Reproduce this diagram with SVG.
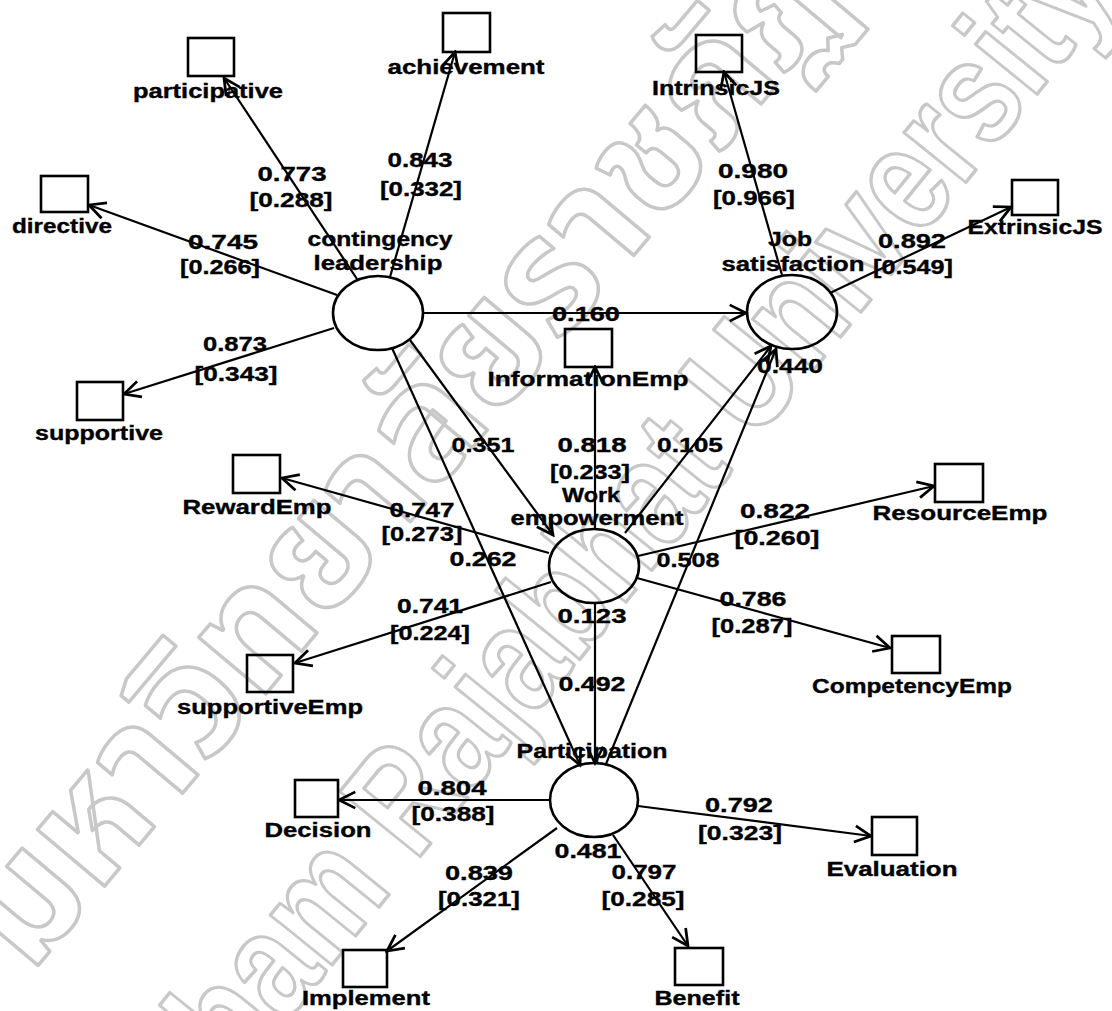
<svg xmlns="http://www.w3.org/2000/svg" width="1112" height="1011" viewBox="0 0 1112 1011">
<style>
  .bg { fill: #ffffff; }
  .box { fill: none; stroke: #000; stroke-width: 2.6; }
  .lv { fill: none; stroke: #000; stroke-width: 2.6; }
  .ln { stroke: #000; stroke-width: 2.2; fill: none; }
  .t { font-family: "Liberation Sans", Arial, sans-serif; font-weight: bold; font-size: 20px; fill: #000; stroke: #000; stroke-width: 0.35; text-anchor: middle; }
  .wm { font-family: "Liberation Sans", "Noto Sans Thai", "Noto Sans", "DejaVu Sans", sans-serif; font-weight: bold; fill: none; stroke: #c8c8c8; stroke-width: 3.5; stroke-linejoin: round; }
</style>
<defs>
  <marker id="arr" markerUnits="userSpaceOnUse" markerWidth="20" markerHeight="20" viewBox="-14 -8 16 16" refX="0" refY="0" orient="auto">
    <path d="M-13,-6.5 L0,0 L-13,6.5" fill="none" stroke="#000" stroke-width="2.2"/>
  </marker>
</defs>
<rect class="bg" x="0" y="0" width="1112" height="1011"/>

<g id="watermark">
  <text class="wm" font-size="160" transform="translate(30,975) rotate(-50)">มหาวิทยาลัยราชภัฏมหาสารคาม</text>
  <text class="wm" font-size="150" text-anchor="end" transform="translate(1120,-8) rotate(-51) scale(0.8,1)">Mahasarakham Rajabhat University</text>
</g>

<g id="connectors">
  <line class="ln" x1="357" y1="279" x2="224" y2="78" marker-end="url(#arr)"/>
  <line class="ln" x1="390" y1="277" x2="455" y2="52" marker-end="url(#arr)"/>
  <line class="ln" x1="782" y1="275" x2="724" y2="72" marker-end="url(#arr)"/>
  <line class="ln" x1="595" y1="529" x2="595" y2="367" marker-end="url(#arr)"/>
  <line class="ln" x1="337" y1="295" x2="89" y2="205" marker-end="url(#arr)"/>
  <line class="ln" x1="334" y1="328" x2="124" y2="394" marker-end="url(#arr)"/>
  <line class="ln" x1="830" y1="293" x2="1011" y2="207" marker-end="url(#arr)"/>
  <line class="ln" x1="549" y1="553" x2="282" y2="478" marker-end="url(#arr)"/>
  <line class="ln" x1="638" y1="556" x2="934" y2="486" marker-end="url(#arr)"/>
  <line class="ln" x1="551" y1="582" x2="295" y2="663" marker-end="url(#arr)"/>
  <line class="ln" x1="637" y1="578" x2="890" y2="648" marker-end="url(#arr)"/>
  <line class="ln" x1="550" y1="800" x2="339" y2="800" marker-end="url(#arr)"/>
  <line class="ln" x1="638" y1="806" x2="871" y2="836" marker-end="url(#arr)"/>
  <line class="ln" x1="557" y1="828" x2="387" y2="951" marker-end="url(#arr)"/>
  <line class="ln" x1="613" y1="835" x2="688" y2="946" marker-end="url(#arr)"/>
  <line class="ln" x1="424" y1="313" x2="746" y2="313" marker-end="url(#arr)"/>
  <line class="ln" x1="410" y1="340" x2="553" y2="535" marker-end="url(#arr)"/>
  <line class="ln" x1="392" y1="348" x2="580" y2="765" marker-end="url(#arr)"/>
  <line class="ln" x1="625" y1="533" x2="771" y2="346" marker-end="url(#arr)"/>
  <line class="ln" x1="606" y1="764" x2="776" y2="349" marker-end="url(#arr)"/>
  <line class="ln" x1="595" y1="603" x2="595" y2="763" marker-end="url(#arr)"/>
</g>

<g id="contingency-leadership">
  <ellipse class="lv" cx="378" cy="313" rx="45" ry="37"/>
  <text class="t" x="380" y="246" textLength="145" lengthAdjust="spacingAndGlyphs">contingency</text>
  <text class="t" x="378" y="270" textLength="129" lengthAdjust="spacingAndGlyphs">leadership</text>
</g>
<g id="job-satisfaction">
  <ellipse class="lv" cx="792" cy="312" rx="45" ry="37"/>
  <text class="t" x="790" y="246" textLength="44" lengthAdjust="spacingAndGlyphs">Job</text>
  <text class="t" x="793" y="271" textLength="143" lengthAdjust="spacingAndGlyphs">satisfaction</text>
  <text class="t" x="790" y="373" textLength="66" lengthAdjust="spacingAndGlyphs">0.440</text>
</g>
<g id="work-empowerment">
  <ellipse class="lv" cx="594" cy="566" rx="45" ry="37"/>
  <text class="t" x="591" y="502" textLength="58" lengthAdjust="spacingAndGlyphs">Work</text>
  <text class="t" x="597" y="525" textLength="173" lengthAdjust="spacingAndGlyphs">empowerment</text>
  <text class="t" x="592" y="623" textLength="69" lengthAdjust="spacingAndGlyphs">0.123</text>
</g>
<g id="participation">
  <ellipse class="lv" cx="594" cy="800" rx="44" ry="37"/>
  <text class="t" x="592" y="758" textLength="151" lengthAdjust="spacingAndGlyphs">Participation</text>
  <text class="t" x="588" y="858" textLength="67" lengthAdjust="spacingAndGlyphs">0.481</text>
</g>

<g id="participative">
  <rect class="box" x="188" y="38" width="46" height="38"/>
  <text class="t" x="208" y="98" textLength="150" lengthAdjust="spacingAndGlyphs">participative</text>
</g>
<g id="achievement">
  <rect class="box" x="443" y="13" width="47" height="39"/>
  <text class="t" x="466" y="74" textLength="157" lengthAdjust="spacingAndGlyphs">achievement</text>
</g>
<g id="IntrinsicJS">
  <rect class="box" x="696" y="35" width="46" height="37"/>
  <text class="t" x="716" y="95" textLength="128" lengthAdjust="spacingAndGlyphs">IntrinsicJS</text>
</g>
<g id="ExtrinsicJS">
  <rect class="box" x="1012" y="180" width="46" height="35"/>
  <text class="t" x="1035" y="234" textLength="135" lengthAdjust="spacingAndGlyphs">ExtrinsicJS</text>
</g>
<g id="directive">
  <rect class="box" x="41" y="176" width="47" height="36"/>
  <text class="t" x="62" y="233" textLength="100" lengthAdjust="spacingAndGlyphs">directive</text>
</g>
<g id="supportive">
  <rect class="box" x="77" y="382" width="46" height="38"/>
  <text class="t" x="99" y="440" textLength="128" lengthAdjust="spacingAndGlyphs">supportive</text>
</g>
<g id="InformationEmp">
  <rect class="box" x="565" y="329" width="47" height="38"/>
  <text class="t" x="588" y="386" textLength="201" lengthAdjust="spacingAndGlyphs">InformationEmp</text>
</g>
<g id="RewardEmp">
  <rect class="box" x="233" y="455" width="47" height="38"/>
  <text class="t" x="257" y="514" textLength="149" lengthAdjust="spacingAndGlyphs">RewardEmp</text>
</g>
<g id="ResourceEmp">
  <rect class="box" x="935" y="464" width="48" height="38"/>
  <text class="t" x="960" y="520" textLength="175" lengthAdjust="spacingAndGlyphs">ResourceEmp</text>
</g>
<g id="supportiveEmp">
  <rect class="box" x="247" y="655" width="46" height="37"/>
  <text class="t" x="270" y="714" textLength="186" lengthAdjust="spacingAndGlyphs">supportiveEmp</text>
</g>
<g id="CompetencyEmp">
  <rect class="box" x="892" y="636" width="48" height="37"/>
  <text class="t" x="912" y="693" textLength="200" lengthAdjust="spacingAndGlyphs">CompetencyEmp</text>
</g>
<g id="Decision">
  <rect class="box" x="295" y="780" width="43" height="37"/>
  <text class="t" x="318" y="837" textLength="107" lengthAdjust="spacingAndGlyphs">Decision</text>
</g>
<g id="Evaluation">
  <rect class="box" x="872" y="817" width="45" height="38"/>
  <text class="t" x="892" y="876" textLength="131" lengthAdjust="spacingAndGlyphs">Evaluation</text>
</g>
<g id="Implement">
  <rect class="box" x="343" y="950" width="44" height="37"/>
  <text class="t" x="366" y="1005" textLength="128" lengthAdjust="spacingAndGlyphs">Implement</text>
</g>
<g id="Benefit">
  <rect class="box" x="675" y="948" width="48" height="37"/>
  <text class="t" x="697" y="1005" textLength="85" lengthAdjust="spacingAndGlyphs">Benefit</text>
</g>

<g id="path-labels">
  <text class="t" x="292" y="181" textLength="69" lengthAdjust="spacingAndGlyphs">0.773</text>
  <text class="t" x="291" y="207" textLength="83" lengthAdjust="spacingAndGlyphs">[0.288]</text>
  <text class="t" x="420" y="167" textLength="65" lengthAdjust="spacingAndGlyphs">0.843</text>
  <text class="t" x="421" y="196" textLength="82" lengthAdjust="spacingAndGlyphs">[0.332]</text>
  <text class="t" x="223" y="249" textLength="70" lengthAdjust="spacingAndGlyphs">0.745</text>
  <text class="t" x="220" y="274" textLength="80" lengthAdjust="spacingAndGlyphs">[0.266]</text>
  <text class="t" x="235" y="351" textLength="64" lengthAdjust="spacingAndGlyphs">0.873</text>
  <text class="t" x="236" y="381" textLength="83" lengthAdjust="spacingAndGlyphs">[0.343]</text>
  <text class="t" x="753" y="178" textLength="70" lengthAdjust="spacingAndGlyphs">0.980</text>
  <text class="t" x="754" y="205" textLength="82" lengthAdjust="spacingAndGlyphs">[0.966]</text>
  <text class="t" x="912" y="248" textLength="68" lengthAdjust="spacingAndGlyphs">0.892</text>
  <text class="t" x="913" y="274" textLength="80" lengthAdjust="spacingAndGlyphs">[0.549]</text>
  <text class="t" x="586" y="321" textLength="68" lengthAdjust="spacingAndGlyphs">0.160</text>
  <text class="t" x="483" y="452" textLength="63" lengthAdjust="spacingAndGlyphs">0.351</text>
  <text class="t" x="592" y="452" textLength="69" lengthAdjust="spacingAndGlyphs">0.818</text>
  <text class="t" x="590" y="479" textLength="80" lengthAdjust="spacingAndGlyphs">[0.233]</text>
  <text class="t" x="690" y="452" textLength="66" lengthAdjust="spacingAndGlyphs">0.105</text>
  <text class="t" x="422" y="517" textLength="65" lengthAdjust="spacingAndGlyphs">0.747</text>
  <text class="t" x="422" y="541" textLength="81" lengthAdjust="spacingAndGlyphs">[0.273]</text>
  <text class="t" x="483" y="566" textLength="67" lengthAdjust="spacingAndGlyphs">0.262</text>
  <text class="t" x="688" y="567" textLength="63" lengthAdjust="spacingAndGlyphs">0.508</text>
  <text class="t" x="775" y="518" textLength="70" lengthAdjust="spacingAndGlyphs">0.822</text>
  <text class="t" x="777" y="545" textLength="85" lengthAdjust="spacingAndGlyphs">[0.260]</text>
  <text class="t" x="430" y="613" textLength="66" lengthAdjust="spacingAndGlyphs">0.741</text>
  <text class="t" x="430" y="640" textLength="80" lengthAdjust="spacingAndGlyphs">[0.224]</text>
  <text class="t" x="753" y="606" textLength="67" lengthAdjust="spacingAndGlyphs">0.786</text>
  <text class="t" x="752" y="633" textLength="81" lengthAdjust="spacingAndGlyphs">[0.287]</text>
  <text class="t" x="592" y="691" textLength="67" lengthAdjust="spacingAndGlyphs">0.492</text>
  <text class="t" x="452" y="795" textLength="69" lengthAdjust="spacingAndGlyphs">0.804</text>
  <text class="t" x="453" y="821" textLength="83" lengthAdjust="spacingAndGlyphs">[0.388]</text>
  <text class="t" x="739" y="812" textLength="68" lengthAdjust="spacingAndGlyphs">0.792</text>
  <text class="t" x="740" y="840" textLength="84" lengthAdjust="spacingAndGlyphs">[0.323]</text>
  <text class="t" x="644" y="879" textLength="65" lengthAdjust="spacingAndGlyphs">0.797</text>
  <text class="t" x="643" y="906" textLength="83" lengthAdjust="spacingAndGlyphs">[0.285]</text>
  <text class="t" x="479" y="880" textLength="68" lengthAdjust="spacingAndGlyphs">0.839</text>
  <text class="t" x="479" y="906" textLength="82" lengthAdjust="spacingAndGlyphs">[0.321]</text>
</g>
</svg>
